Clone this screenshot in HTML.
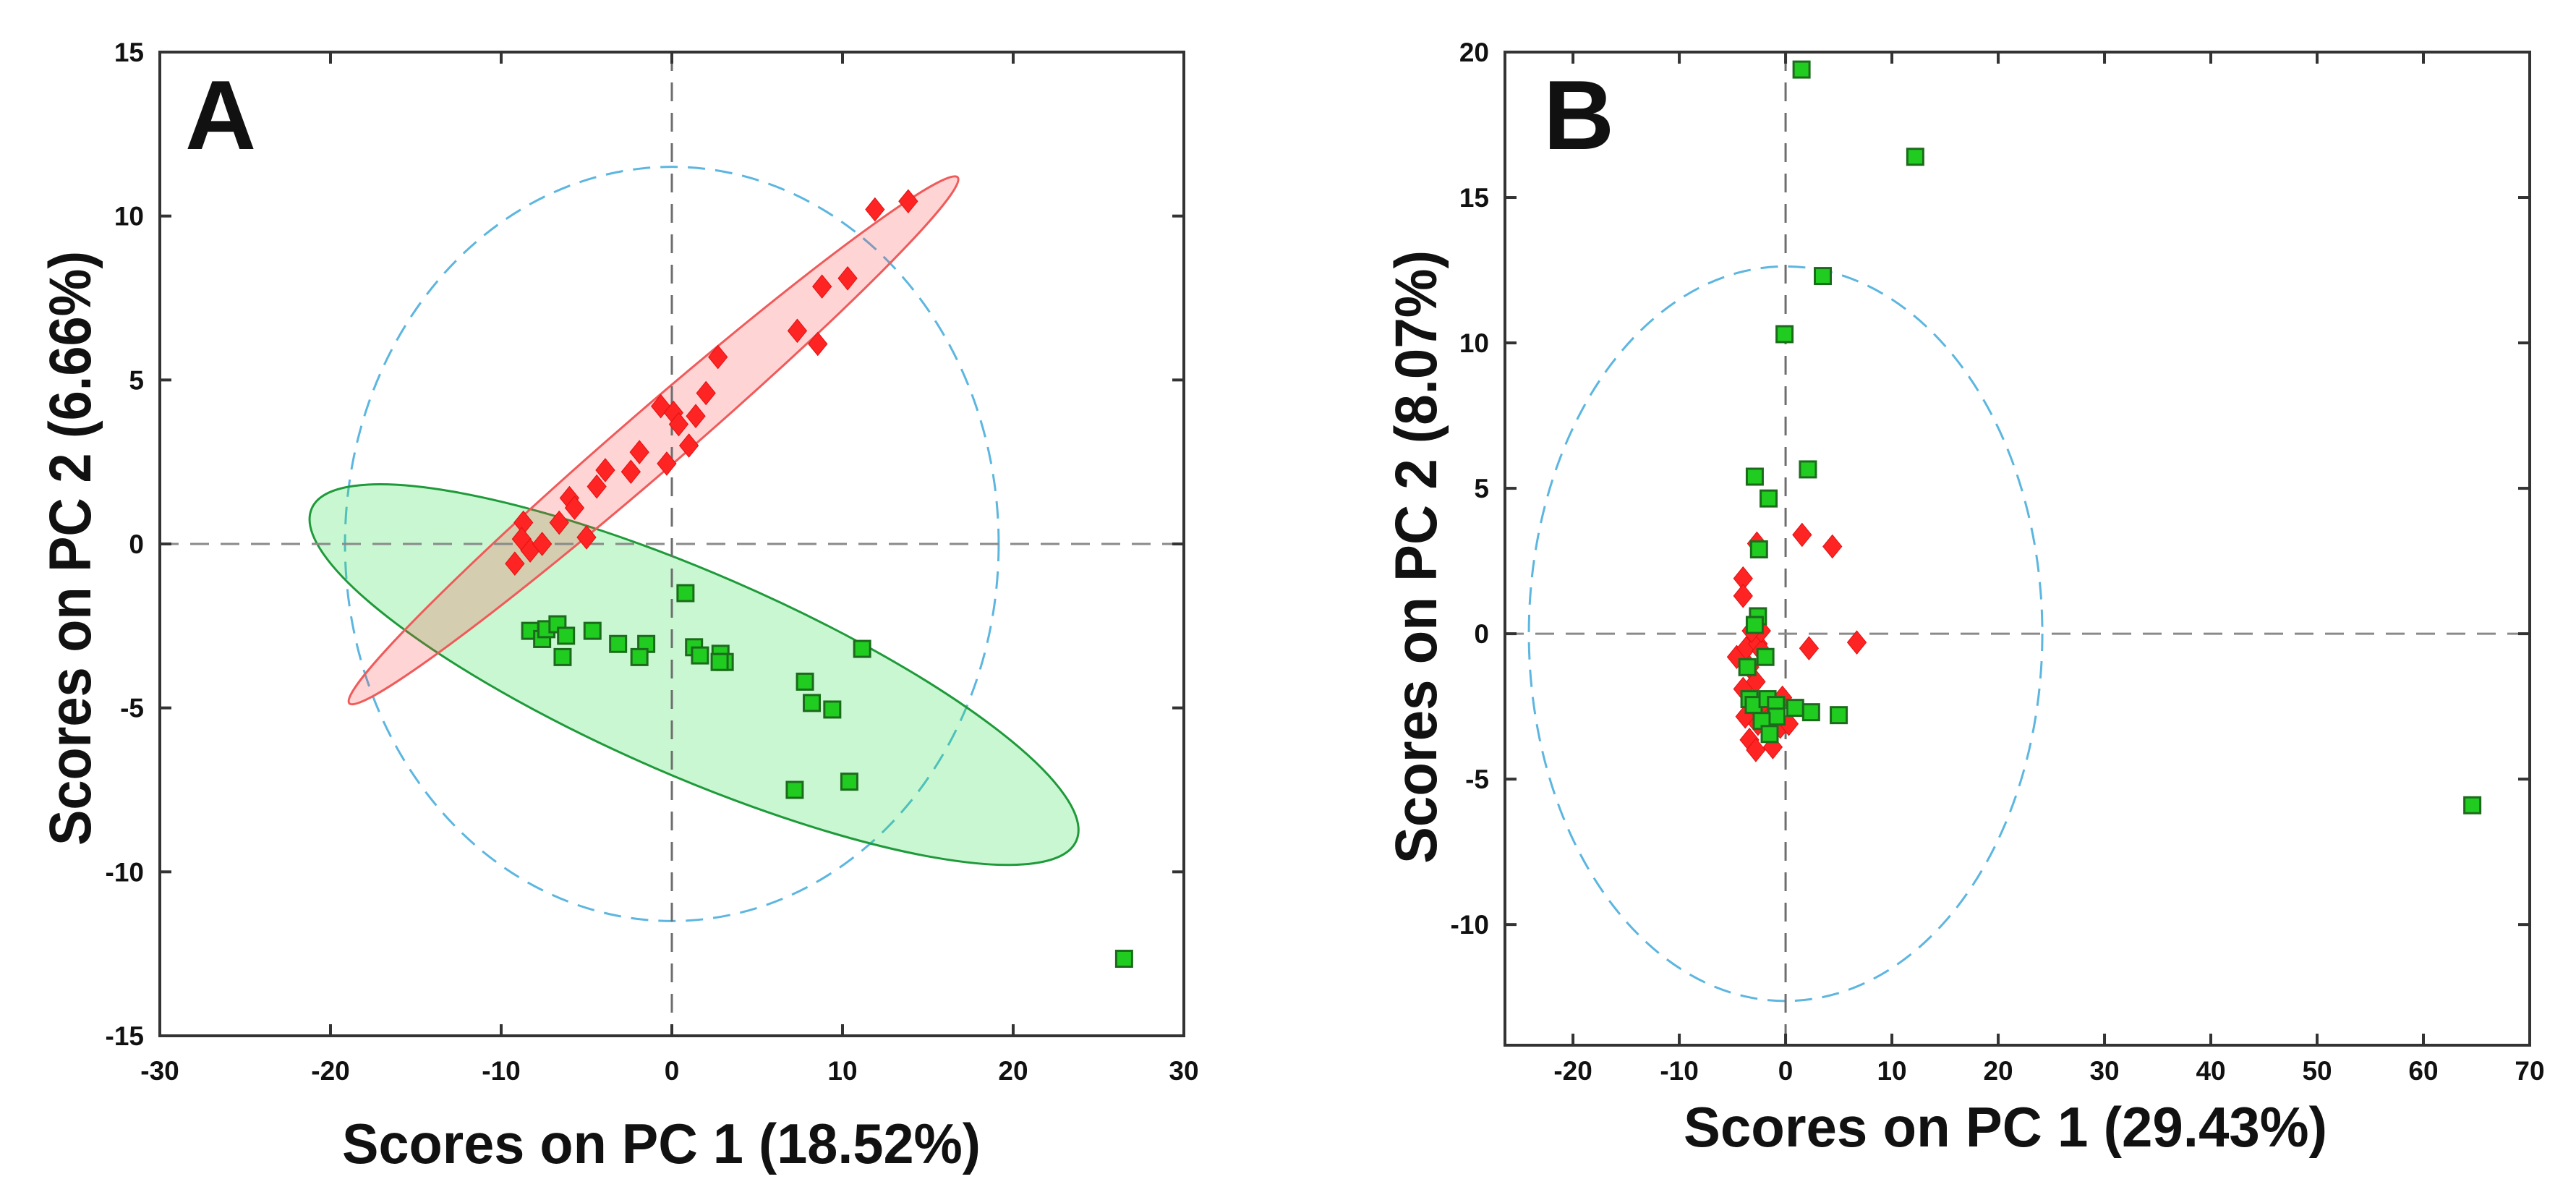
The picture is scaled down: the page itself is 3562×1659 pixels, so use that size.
<!DOCTYPE html>
<html><head><meta charset="utf-8">
<style>
html,body{margin:0;padding:0;background:#fff;}
svg{display:block;}
text{font-family:"Liberation Sans",Arial,sans-serif;font-weight:bold;fill:#111;}
</style></head>
<body>
<svg id="fig" width="3562" height="1659" viewBox="0 0 3562 1659" xmlns="http://www.w3.org/2000/svg">
  <g id="panelA"></g>
  <g id="panelB"></g>
</svg>
<script>
// ---------- Panel A data ----------
const aXTicks = [-30,-20,-10,0,10,20,30];
const aYTicks = [15,10,5,0,-5,-10,-15];
const aRedX = [-9.2,-8.7,-8.8,-8.3,-7.6,-6.6,-6.0,-5.7,-5.0,-4.4,-3.9,-2.4,-1.9,-0.65,-0.3,0.1,0.4,1.0,1.4,2.0,2.7,7.35,8.55,8.8,10.3,11.9,13.85];
const aRedY = [-0.6,0.65,0.15,-0.2,0,0.65,1.4,1.1,0.2,1.75,2.25,2.2,2.8,4.2,2.45,4.0,3.65,3.0,3.9,4.6,5.7,6.5,6.1,7.85,8.1,10.2,10.45];
const aGreenX = [0.8,-8.3,-7.6,-7.35,-6.7,-6.2,-6.4,-4.65,-3.15,-1.5,-1.9,1.3,1.65,2.85,3.1,2.8,11.15,7.8,8.2,9.4,7.2,10.4,26.5];
const aGreenY = [-1.5,-2.65,-2.9,-2.6,-2.45,-2.8,-3.45,-2.65,-3.05,-3.05,-3.45,-3.15,-3.4,-3.35,-3.6,-3.6,-3.2,-4.2,-4.85,-5.05,-7.5,-7.25,-12.65];
const aRedEllipse = [-18.9,-4.86,16.75,11.18];
const aGreenEllipse = [-21.1,1.08,23.7,-9.05];
const aT2Radii = [19.15,11.5];

// ---------- Panel B data ----------
const bXTicks = [-20,-10,0,10,20,30,40,50,60,70];
const bYTicks = [20,15,10,5,0,-5,-10];
const bGreenX = [1.5,12.2,3.5,-0.1,2.1,-2.9,-1.6,-2.5,-2.6,-2.9,-1.9,-3.6,-3.4,-3.0,-1.7,-0.9,-0.85,-2.25,-1.5,0.9,2.4,5.0,64.6];
const bGreenY = [19.4,16.4,12.3,10.3,5.65,5.4,4.65,2.9,0.6,0.3,-0.8,-1.15,-2.25,-2.45,-2.25,-2.45,-2.85,-3.0,-3.45,-2.55,-2.7,-2.8,-5.9];
const bRedX = [-2.7,1.55,4.4,-4.0,-4.0,6.7,2.2,-4.6,-3.7,-2.6,-3.4,-2.8,-2.25,-3.8,-2.6,-3.4,-2.8,-1.2,-0.5,0.3,-0.3,-2.25,-1.1,-4.0,-2.3,-3.2];
const bRedY = [3.1,3.4,3.0,1.9,1.3,-0.3,-0.5,-0.8,-0.5,-0.35,-1.15,-1.65,-0.6,-2.85,-3.1,-3.65,-4.0,-3.9,-3.2,-3.1,-2.2,-2.6,-2.7,-1.9,0.1,0.1];
const bT2Radii = [24.15,12.63];

const NS = "http://www.w3.org/2000/svg";
function mk(parent, tag, attrs){
  const e = document.createElementNS(NS, tag);
  for (const k in attrs) e.setAttribute(k, attrs[k]);
  parent.appendChild(e);
  return e;
}

function drawPanel(g, cfg){
  const sx = v => cfg.left + (v - cfg.xmin) / (cfg.xmax - cfg.xmin) * (cfg.right - cfg.left);
  const sy = v => cfg.top + (cfg.ymax - v) / (cfg.ymax - cfg.ymin) * (cfg.bottom - cfg.top);

  const t2 = mk(g, 'ellipse', {cx: sx(0), cy: sy(0), rx: sx(cfg.t2[0]) - sx(0), ry: sy(0) - sy(cfg.t2[1]),
    fill: 'none', stroke: '#5cb6e0', 'stroke-width': 3, 'stroke-dasharray': '24 14'});
  
  

  (cfg.groupEllipses || []).forEach(ge => {
    const p1 = [sx(ge.pts[0]), sy(ge.pts[1])], p2 = [sx(ge.pts[2]), sy(ge.pts[3])];
    const cx = (p1[0]+p2[0])/2, cy = (p1[1]+p2[1])/2;
    const rx = Math.hypot(p2[0]-p1[0], p2[1]-p1[1]) / 2;
    const ang = Math.atan2(p2[1]-p1[1], p2[0]-p1[0]) * 180 / Math.PI;
    const el = mk(g, 'ellipse', {cx: cx, cy: cy, rx: rx, ry: ge.minor, transform: `rotate(${ang} ${cx} ${cy})`,
      fill: ge.fill, stroke: ge.stroke, 'stroke-width': 3});
    
    
  });

  const vz = mk(g, 'line', {x1: sx(0), x2: sx(0), y1: cfg.top, y2: cfg.bottom, stroke: '#6e6e6e', 'stroke-width': 3, 'stroke-dasharray': '26 16'});
  
  
  const hz = mk(g, 'line', {x1: cfg.left, x2: cfg.right, y1: sy(0), y2: sy(0), stroke: '#8a8a8a', 'stroke-width': 3, 'stroke-dasharray': '26 16'});
  
  

  cfg.red[0].forEach((x, i) => {
    const px = sx(x), py = sy(cfg.red[1][i]);
    const d = mk(g, 'polygon', {points: `${px},${py-16} ${px+13},${py} ${px},${py+16} ${px-13},${py}`, fill: '#ff2424', stroke: '#e01010', 'stroke-width': 1});
    
    
  });
  cfg.green[0].forEach((x, i) => {
    const px = sx(x), py = sy(cfg.green[1][i]);
    const s = mk(g, 'rect', {x: px-11, y: py-11, width: 22, height: 22, fill: '#1fcc1f', stroke: '#1c6b1c', 'stroke-width': 3});
    
    
  });

  const box = mk(g, 'rect', {x: cfg.left, y: cfg.top, width: cfg.right-cfg.left, height: cfg.bottom-cfg.top, fill: 'none', stroke: '#333', 'stroke-width': 4});
  
  

  cfg.xticks.forEach(t => {
    const x = sx(t);
    if (t > cfg.xmin + 0.5 && t < cfg.xmax - 0.5) {
      mk(g, 'line', {x1: x, x2: x, y1: cfg.bottom, y2: cfg.bottom-16, stroke: '#333', 'stroke-width': 4});
      mk(g, 'line', {x1: x, x2: x, y1: cfg.top, y2: cfg.top+16, stroke: '#333', 'stroke-width': 4});
    }
    const lb = mk(g, 'text', {x: x, y: 1493, 'text-anchor': 'middle', 'font-size': 37});
    lb.textContent = t;
    
    
  });
  cfg.yticks.forEach(t => {
    const y = sy(t);
    if (t > cfg.ymin + 0.5 && t < cfg.ymax - 0.5) {
      mk(g, 'line', {x1: cfg.left, x2: cfg.left+16, y1: y, y2: y, stroke: '#333', 'stroke-width': 4});
      mk(g, 'line', {x1: cfg.right, x2: cfg.right-16, y1: y, y2: y, stroke: '#333', 'stroke-width': 4});
    }
    const lb = mk(g, 'text', {x: cfg.left-22, y: y+13, 'text-anchor': 'end', 'font-size': 37});
    lb.textContent = t;
    
    
  });

  const L = mk(g, 'text', {x: cfg.letterX, y: 206, 'font-size': 136});
  L.textContent = cfg.letter;
  
  

  const xt = mk(g, 'text', {x: cfg.xTitle[0], y: cfg.xTitle[1], 'font-size': 78, textLength: cfg.xTitle[2], lengthAdjust: 'spacingAndGlyphs'});
  xt.textContent = cfg.xTitleText;
  
  
  const yt = mk(g, 'text', {x: 0, y: 0, 'font-size': 82, textLength: cfg.yTitle[2], lengthAdjust: 'spacingAndGlyphs',
    'text-anchor': 'middle', transform: `translate(${cfg.yTitle[0]} ${cfg.yTitle[1]}) rotate(-90)`});
  yt.textContent = cfg.yTitleText;
  
  
}

drawPanel(document.getElementById('panelA'), {
  left: 221, right: 1637, top: 72, bottom: 1432,
  xmin: -30, xmax: 30, ymin: -15, ymax: 15,
  xticks: aXTicks, yticks: aYTicks, t2: aT2Radii,
  red: [aRedX, aRedY], green: [aGreenX, aGreenY],
  groupEllipses: [
    {pts: aGreenEllipse, minor: 140, fill: 'rgba(40,225,70,0.25)', stroke: '#1f9a3a', name: 'green-group-ellipse'},
    {pts: aRedEllipse, minor: 42, fill: 'rgba(255,60,60,0.22)', stroke: '#f05a5a', name: 'red-group-ellipse'}
  ],
  letter: 'A', letterX: 256,
  xTitle: [473, 1608, 883], xTitleText: 'Scores on PC 1 (18.52%)',
  yTitle: [125, 758, 822], yTitleText: 'Scores on PC 2 (6.66%)'
});

drawPanel(document.getElementById('panelB'), {
  left: 2081, right: 3498, top: 72, bottom: 1445,
  xmin: -26.4, xmax: 70, ymin: -14.15, ymax: 20,
  xticks: bXTicks, yticks: bYTicks, t2: bT2Radii,
  red: [bRedX, bRedY], green: [bGreenX, bGreenY],
  groupEllipses: [],
  letter: 'B', letterX: 2134,
  xTitle: [2328, 1585, 890], xTitleText: 'Scores on PC 1 (29.43%)',
  yTitle: [1986, 770, 848], yTitleText: 'Scores on PC 2 (8.07%)'
});
</script>
</body></html>
